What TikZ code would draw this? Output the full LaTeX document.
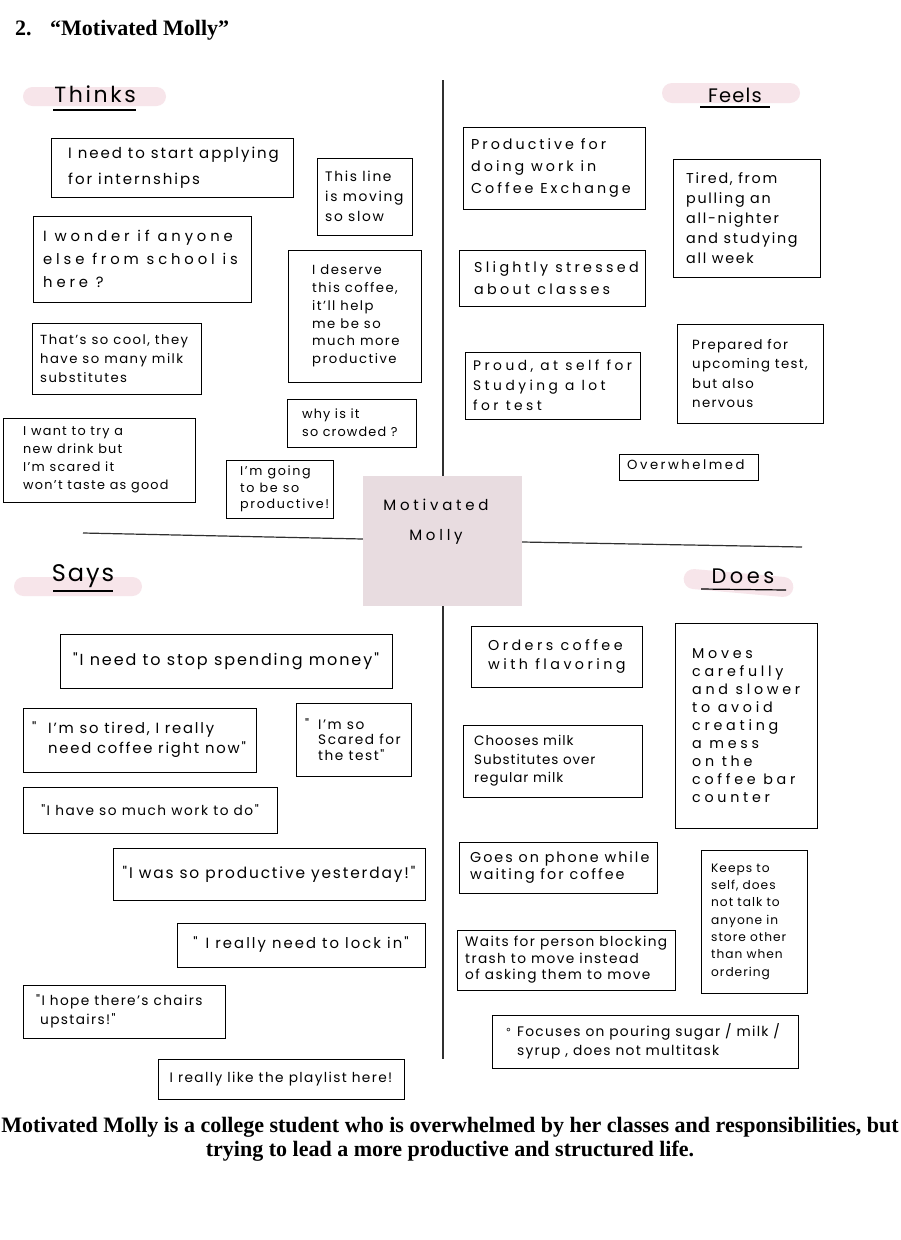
\documentclass[tikz,border=0pt]{standalone}
\usepackage{fontspec}
\setmainfont{Liberation Serif}
\newfontfamily\hand{Poppins}
\newfontfamily\symfont{DejaVu Sans}
\definecolor{pillpink}{HTML}{F7E5EA}
\definecolor{corefill}{HTML}{E8DCE0}
\definecolor{rulegray}{HTML}{303030}

\tikzset{
  card/.style={draw=black, line width=1.4pt, fill=white, inner sep=0pt},
  note/.style={font=\hand, align=left, inner sep=0pt, anchor=west},
  cnote/.style={font=\hand, align=center, inner sep=0pt, anchor=center},
  pill/.style={fill=pillpink, rounded corners=9.5pt, inner sep=0pt},
  head/.style={inner sep=0pt},
  underl/.style={line width=1.2pt},
  divider/.style={draw=rulegray, line width=1.2pt},
}

\newcommand\fs[2]{\fontsize{#1}{#2}\selectfont}
\newcommand\ls[1]{\addfontfeatures{LetterSpace=#1}}

% box with left-aligned text: name, x1, y1, x2, y2, left pad, font setup, text
\newcommand\card[8]{%
  \node[card, minimum width={(#4)-(#2)}, minimum height={(#5)-(#3)}, anchor=north west] (#1) at (#2,#3) {};
  \node[note, font=\hand#7] (#1-t) at ({#2+#6},{(#3+#5)/2}) {#8};
}
% box with centred text: name, x1, y1, x2, y2, font setup, text
\newcommand\ccard[7]{%
  \node[card, minimum width={(#4)-(#2)}, minimum height={(#5)-(#3)}, anchor=north west] (#1) at (#2,#3) {};
  \node[cnote, font=\hand#6] (#1-t) at ({(#2+#4)/2},{(#3+#5)/2}) {#7};
}

\begin{document}
\begin{tikzpicture}[x=1pt, y=-1pt]
\useasboundingbox (0,0) rectangle (900,1240);
\fill[white] (0,0) rectangle (900,1240);

% title
\node[anchor=base west, inner sep=0pt, font=\bfseries\fontsize{22}{26}\selectfont] (title) at (15,35)
  {\makebox[35pt][l]{2.}“Motivated Molly”};

% centre square and the two dividing lines
\node[fill=corefill, minimum width=159pt, minimum height=130pt, inner sep=0pt] (core) at (442.5,541) {};
\node[cnote, font=\hand\fs{15}{30}\ls{25}] (core-t) at (436,522) {Motivated\\Molly};
\coordinate (vtop) at (443,80);
\coordinate (vbot) at (443,1059);
\coordinate (hl) at (83,533);
\coordinate (hr) at (802,547);
\draw[divider] (vtop) -- (vtop |- core.north);
\draw[divider] (vbot |- core.south) -- (vbot);
\draw[divider] (hl) -- ([yshift=2pt]core.west);
\draw[divider] ([yshift=-1pt]core.east) -- (hr);

% quadrant headings
\node[pill, minimum width=143pt, minimum height=19pt] (pthinks) at (94.5,96.5) {};
\node[head, font=\hand\fs{22}{26}\ls{12}] (thinks) at (95,94) {Thinks};
\draw[underl] (53,110) -- (136,110);

\node[pill, minimum width=138pt, minimum height=20pt, rounded corners=10pt] (pfeels) at (731,93) {};
\node[head, font=\hand\fs{19.5}{24}\ls{6}] (feels) at (735,95) {Feels};
\draw[underl] (700,107) -- (770,107);

\node[pill, minimum width=128pt, minimum height=19pt] (psays) at (78,586.5) {};
\node[head, font=\hand\fs{24}{28}\ls{8}] (says) at (83,576) {Says};
\draw[underl] (53,591) -- (113,591);

\node[pill, minimum width=110pt, minimum height=20pt, rounded corners=10pt, rotate=-5] (pdoes) at (738.5,583) {};
\node[head, font=\hand\fs{21}{25}\ls{12}] (does) at (743,576) {D\,o\,e\,s};
\draw[underl] (701,589) -- (786,590);

% Thinks
\card{t1}{51}{138}{293}{197}{17}{\fs{15}{26}\ls{13}}{I need to start applying\\for internships}
\card{t2}{317}{158}{412}{235}{8}{\fs{13.8}{20}\ls{12}}{This line\\is moving\\so slow}
\card{t3}{33}{216}{251}{302}{10}{\fs{14.8}{23}\ls{26}}{I wonder if anyone\\else from school is\\here ?}
\card{t4}{288}{250}{421}{382}{24}{\fs{13.2}{17.7}\ls{11}}{I deserve\\this coffee,\\it’ll help\\me be so\\much more\\productive}
\card{t5}{32}{323}{201}{394}{8}{\fs{13.2}{19}\ls{11}}{That’s so cool, they\\have so many milk\\substitutes}
\card{t6}{287}{399}{416}{447}{15}{\fs{12.8}{18}\ls{9}}{why is it\\so crowded ?}
\card{t7}{3}{418}{195}{502}{20}{\fs{12.8}{18}\ls{10}}{I want to try a\\new drink but\\I’m scared it\\won’t taste as good}
\card{t8}{226}{460}{333}{518}{14}{\fs{12.7}{16.5}\ls{13}}{I’m going\\to be so\\productive!}

% Feels
\card{f1}{463}{127}{645}{209}{8}{\fs{14.3}{22}\ls{21}}{Productive for\\doing work in\\Coffee Exchange}
\card{f2}{673}{159}{820}{277}{13}{\fs{14.3}{20}\ls{12}}{Tired, from\\pulling an\\all-nighter\\and studying\\all week}
\card{f3}{459}{250}{645}{306}{15}{\fs{14.3}{22}\ls{23}}{Slightly stressed\\about classes}
\card{f4}{465}{352}{640}{419}{8}{\fs{13.8}{20}\ls{25}}{Proud, at self for\\Studying a lot\\for test}
\card{f5}{677}{324}{823}{423}{15}{\fs{13.3}{19.5}\ls{10}}{Prepared for\\upcoming test,\\but also\\nervous}
\node[card, minimum width=139pt, minimum height=26pt, anchor=north west] (f6) at (619,454) {};
\node[note, font=\hand\fs{13.2}{14}\ls{19}] (f6-t) at (627,464.5) {Overwhelmed};

% Says
\ccard{s1}{60}{634}{392}{688}{\fs{16}{18}\ls{12}}{"I need to stop spending money"}
\card{s2}{23}{708}{256}{772}{9}{\fs{14.8}{20}\ls{12}}{\makebox[16pt][l]{"}I’m so tired, I really\\\hspace{16pt}need coffee right now"}
\card{s3}{296}{703}{411}{776}{9}{\fs{13.7}{15.5}\ls{11}}{\makebox[13pt][l]{"}I’m so\\\hspace{13pt}Scared for\\\hspace{13pt}the test"}
\ccard{s4}{23}{787}{277}{833}{\fs{13.7}{15}\ls{11}}{"I have so much work to do"}
\ccard{s5}{113}{848}{425}{900}{\fs{15.4}{17}\ls{12}}{"I was so productive yesterday!"}
\ccard{s6}{177}{923}{425}{967}{\fs{14.8}{16}\ls{14}}{"\hspace{8pt}I really need to lock in"}
\card{s7}{23}{985}{225}{1038}{13}{\fs{13.7}{19}\ls{10}}{"I hope there’s chairs\\\hspace{4pt}upstairs!"}
\ccard{s8}{158}{1059}{404}{1099}{\fs{13.7}{15}\ls{10}}{I really like the playlist here!}

% Does
\card{d1}{471}{626}{642}{687}{17}{\fs{14.3}{19}\ls{24}}{Orders coffee\\with flavoring}
\card{d2}{675}{623}{817}{828}{17}{\fs{14.3}{18}\ls{26}}{Moves\\carefully\\and slower\\to avoid\\creating\\a mess\\on the\\coffee bar\\counter}
\card{d3}{463}{725}{642}{797}{11}{\fs{13.5}{18.5}\ls{7}}{Chooses milk\\Substitutes over\\regular milk}
\card{d4}{459}{842}{657}{893}{11}{\fs{14.3}{17}\ls{14}}{Goes on phone while\\waiting for coffee}
\card{d5}{701}{850}{807}{993}{10}{\fs{12.2}{17.3}\ls{8}}{Keeps to\\self, does\\not talk to\\anyone in\\store other\\than when\\ordering}
\card{d6}{457}{930}{675}{990}{8}{\fs{13.7}{16.5}\ls{10}}{Waits for person blocking\\trash to move instead\\of asking them to move}
\card{d7}{492}{1015}{798}{1068}{13}{\fs{13.8}{18.5}\ls{9}}{\makebox[12pt][l]{\raisebox{3pt}{\symfont\fs{11}{18.5}∘}}Focuses on pouring sugar / milk /\\\hspace{12pt}syrup , does not multitask}

% summary
\node[align=center, inner sep=0pt, font=\bfseries\fontsize{22}{24}\selectfont] (summary) at (450,1139)
  {Motivated Molly is a college student who is overwhelmed by her classes and responsibilities, but\\
   trying to lead a more productive and structured life.};
\end{tikzpicture}
\end{document}
